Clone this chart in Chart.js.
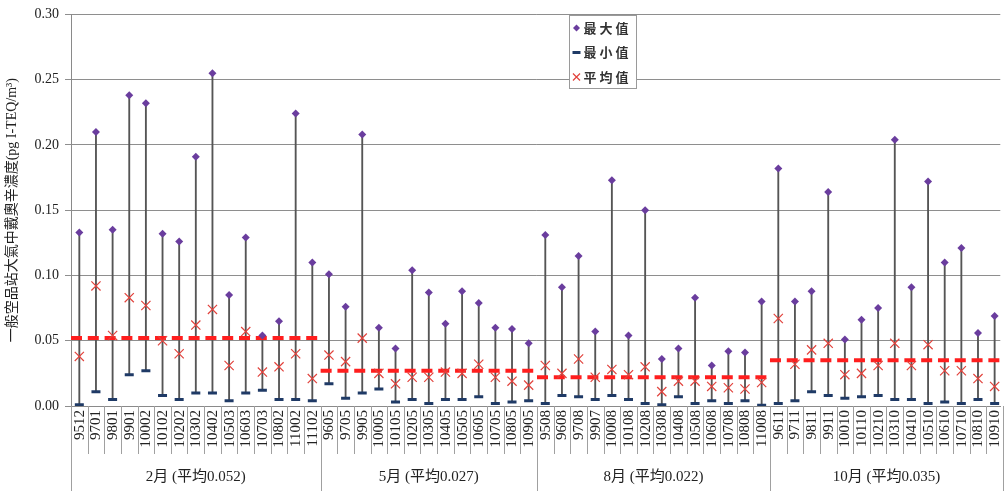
<!DOCTYPE html>
<html>
<head>
    <meta charset="utf-8">
    <script src="https://cdn.jsdelivr.net/npm/chart.js@4.4.1/dist/chart.umd.min.js"></script>
    <style>
        body {
            margin: 0;
            background: #fff;
            overflow: hidden;
        }
    </style>
    <title>戴奧辛濃度</title>
</head>
<body>
    <canvas id="myChart" width="1008" height="491"></canvas>

    <script>
        // sampling codes (year + month), grouped by month
        var codes = [
            '9512', '9701', '9801', '9901', '10002', '10102', '10202', '10302', '10402', '10503', '10603', '10703', '10802', '11002', '11102',
            '9605', '9705', '9905', '10005', '10105', '10205', '10305', '10405', '10505', '10605', '10705', '10805', '10905',
            '9508', '9608', '9708', '9907', '10008', '10108', '10208', '10308', '10408', '10508', '10608', '10708', '10808', '11008',
            '9611', '9711', '9811', '9911', '10010', '10110', '10210', '10310', '10410', '10510', '10610', '10710', '10810', '10910'
        ];

        var maxVals = [
            0.133, 0.210, 0.135, 0.238, 0.232, 0.132, 0.126, 0.191, 0.255, 0.085, 0.129, 0.054, 0.065, 0.224, 0.110,
            0.101, 0.076, 0.208, 0.060, 0.044, 0.104, 0.087, 0.063, 0.088, 0.079, 0.060, 0.059, 0.048,
            0.131, 0.091, 0.115, 0.057, 0.173, 0.054, 0.150, 0.036, 0.044, 0.083, 0.031, 0.042, 0.041, 0.080,
            0.182, 0.080, 0.088, 0.164, 0.051, 0.066, 0.075, 0.204, 0.091, 0.172, 0.110, 0.121, 0.056, 0.069
        ];

        var minVals = [
            0.001, 0.011, 0.005, 0.024, 0.027, 0.008, 0.005, 0.010, 0.010, 0.004, 0.010, 0.012, 0.005, 0.005, 0.004,
            0.017, 0.006, 0.010, 0.013, 0.003, 0.005, 0.002, 0.005, 0.005, 0.007, 0.002, 0.003, 0.004,
            0.002, 0.008, 0.007, 0.005, 0.008, 0.005, 0.002, 0.001, 0.007, 0.002, 0.004, 0.002, 0.004, 0.0005,
            0.002, 0.004, 0.011, 0.008, 0.006, 0.007, 0.008, 0.005, 0.005, 0.002, 0.003, 0.002, 0.005, 0.002
        ];

        var avgVals = [
            0.038, 0.092, 0.054, 0.083, 0.077, 0.050, 0.040, 0.062, 0.074, 0.031, 0.057, 0.026, 0.030, 0.040, 0.021,
            0.039, 0.034, 0.052, 0.025, 0.017, 0.022, 0.022, 0.026, 0.025, 0.032, 0.022, 0.019, 0.016,
            0.031, 0.025, 0.036, 0.022, 0.028, 0.024, 0.030, 0.011, 0.019, 0.019, 0.015, 0.014, 0.013, 0.018,
            0.067, 0.032, 0.043, 0.048, 0.024, 0.025, 0.031, 0.048, 0.031, 0.047, 0.027, 0.027, 0.021, 0.015
        ];

        var groupNames = ['2月 (平均0.052)', '5月 (平均0.027)', '8月 (平均0.022)', '10月 (平均0.035)'];
        var groupSizes = [15, 13, 14, 14];
        var groupAvg = [0.052, 0.027, 0.022, 0.035];

        var yTitle = '一般空品站大氣中戴奧辛濃度(pg I-TEQ/m³)';

        var SERIF = '"Liberation Serif", "Noto Sans CJK TC", serif';
        var CJK = '"Noto Sans CJK TC", "Liberation Serif", sans-serif';

        var maxColor = '#6a3d9e';
        var minColor = '#1f3a66';
        var avgColor = '#e2433d';
        var lineColor = '#ff1e1e';

        function pts(arr) {
            return arr.map(function (v, i) { return { x: i, y: v }; });
        }

        // group start indexes
        var groupStart = [];
        var acc = 0;
        for (var g = 0; g < groupSizes.length; g++) {
            groupStart.push(acc);
            acc += groupSizes[g];
        }

        var datasets = [
            {
                type: 'line', label: '平均值', data: pts(avgVals), showLine: false,
                pointStyle: 'crossRot', pointRadius: 6.5, pointBorderWidth: 1.2,
                borderColor: avgColor, backgroundColor: avgColor
            },
            {
                type: 'line', label: '最小值', data: pts(minVals), showLine: false,
                pointStyle: 'line', pointRadius: 4.5, pointBorderWidth: 3,
                borderColor: minColor, backgroundColor: minColor
            },
            {
                type: 'line', label: '最大值', data: pts(maxVals), showLine: false,
                pointStyle: 'rectRot', pointRadius: 4, pointBorderWidth: 0,
                borderColor: maxColor, backgroundColor: maxColor
            }
        ];

        for (var g = 0; g < groupSizes.length; g++) {
            datasets.push({
                type: 'line',
                label: groupNames[g],
                data: [
                    { x: groupStart[g] - 0.5, y: groupAvg[g] },
                    { x: groupStart[g] + groupSizes[g] - 0.5, y: groupAvg[g] }
                ],
                borderColor: lineColor,
                borderWidth: 4,
                borderDash: [11, 5.8],
                pointRadius: 0
            });
        }

        // high-low lines
        datasets.push({
            type: 'bar',
            label: 'range',
            data: minVals.map(function (v, i) { return { x: i, y: [v, maxVals[i]] }; }),
            backgroundColor: '#555555',
            barThickness: 1.2
        });

        var overlay = {
            id: 'overlay',
            afterDraw: function (chart) {
                var ctx = chart.ctx;
                var xs = chart.scales.x;
                var area = chart.chartArea;
                var H = chart.height;

                ctx.save();

                // separators under the axis
                ctx.strokeStyle = '#a0a0a0';
                ctx.lineWidth = 1;
                for (var i = 0; i <= codes.length; i++) {
                    var px = Math.round(xs.getPixelForValue(i - 0.5)) + 0.5;
                    if (px > chart.width) continue;
                    var edge = groupStart.indexOf(i) >= 0 || i == codes.length;
                    ctx.beginPath();
                    ctx.moveTo(px, area.bottom);
                    ctx.lineTo(px, edge ? H : area.bottom + 48);
                    ctx.stroke();
                }

                // code labels (rotated)
                ctx.fillStyle = '#222';
                ctx.font = '15px ' + SERIF;
                ctx.textAlign = 'right';
                ctx.textBaseline = 'middle';
                for (var i = 0; i < codes.length; i++) {
                    var cx = xs.getPixelForValue(i);
                    ctx.save();
                    ctx.translate(cx + 0.5, area.bottom + 4);
                    ctx.rotate(-Math.PI / 2);
                    ctx.fillText(codes[i], 0, 0);
                    ctx.restore();
                }

                // group labels
                ctx.font = '15px ' + SERIF;
                ctx.textAlign = 'center';
                for (var g = 0; g < groupNames.length; g++) {
                    var gx = (xs.getPixelForValue(groupStart[g] - 0.5) + xs.getPixelForValue(groupStart[g] + groupSizes[g] - 0.5)) / 2;
                    ctx.fillText(groupNames[g], gx, area.bottom + 71);
                }

                // legend box
                var lx = 569.5, ly = 15.5, lw = 67, lh = 73;
                ctx.fillStyle = '#fff';
                ctx.fillRect(lx, ly, lw, lh);
                ctx.strokeStyle = '#9a9a9a';
                ctx.strokeRect(lx, ly, lw, lh);

                var items = [datasets[2], datasets[1], datasets[0]];
                for (var k = 0; k < items.length; k++) {
                    var d = items[k];
                    var iy = ly + 12.5 + k * 24.5;
                    ctx.fillStyle = d.backgroundColor;
                    ctx.strokeStyle = d.borderColor;
                    ctx.lineWidth = d.pointBorderWidth || 1;
                    Chart.helpers.drawPoint(ctx, {
                        pointStyle: d.pointStyle,
                        radius: d.pointStyle == 'crossRot' ? 5 : (d.pointStyle == 'line' ? 4 : 3.5),
                        borderWidth: d.pointBorderWidth,
                        rotation: 0
                    }, lx + 7, iy);
                    ctx.fillStyle = '#333';
                    ctx.font = 'bold 13px ' + CJK;
                    ctx.textAlign = 'left';
                    ctx.textBaseline = 'middle';
                    ctx.fillText(d.label.split('').join(' '), lx + 14, iy);
                }

                ctx.restore();
            }
        };

        var chart = new Chart(document.getElementById('myChart').getContext('2d'), {
            type: 'bar',
            data: { datasets: datasets },
            options: {
                responsive: false,
                animation: false,
                devicePixelRatio: 1,
                layout: { padding: { left: 0, right: 0, top: 12, bottom: 0 } },
                plugins: {
                    legend: { display: false },
                    tooltip: { enabled: false }
                },
                scales: {
                    x: {
                        type: 'linear',
                        offset: false,
                        min: -0.5,
                        max: -0.5 + (1008 - 71) / 16.78,
                        grid: { display: false },
                        border: { display: true, color: '#8a8a8a' },
                        ticks: { display: false },
                        afterFit: function (s) { s.height = 85; }
                    },
                    y: {
                        min: 0,
                        max: 0.30,
                        ticks: {
                            stepSize: 0.05,
                            color: '#222',
                            padding: 6,
                            font: { family: SERIF, size: 14 },
                            callback: function (v) { return v.toFixed(2); }
                        },
                        grid: { color: '#8e8e8e', tickLength: 6, lineWidth: 1 },
                        border: { display: true, color: '#8a8a8a' },
                        title: {
                            display: true,
                            text: yTitle,
                            color: '#222',
                            font: { family: SERIF, size: 14 },
                            padding: { top: 4, bottom: 0 }
                        },
                        afterFit: function (s) { s.width = 71; }
                    }
                }
            },
            plugins: [overlay]
        });
    </script>
</body>
</html>
